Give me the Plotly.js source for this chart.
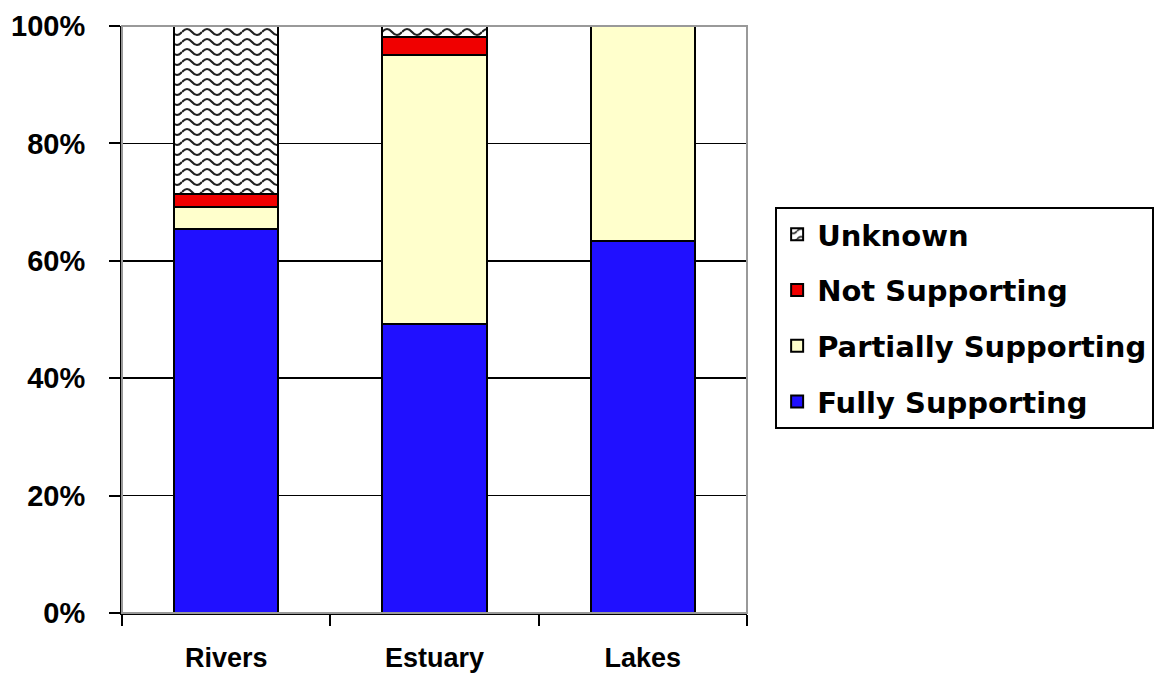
<!DOCTYPE html>
<html>
<head>
<meta charset="utf-8">
<script src="https://cdn.plot.ly/plotly-3.0.1.min.js"></script>
<style>html,body{margin:0;padding:0;background:#fff;}</style>
</head>
<body>
<div id="chart" style="width:1170px;height:688px;"></div>
<script>
const categories = ["Rivers", "Estuary", "Lakes"];
const fullySupporting = [65.4, 49.2, 63.4];
const partiallySupporting = [3.8, 45.9, 36.6];
const notSupporting = [2.2, 3.0, 0];
const unknown = [28.6, 1.9, 0];
const yTickVals = [0, 20, 40, 60, 80, 100];
const yTickText = ["0%", "20%", "40%", "60%", "80%", "100%"];

const edge = {color: "#000", width: 2};
function tr(name, vals, color, group, rank, pattern) {
  const m = {color: color, line: edge};
  if (pattern) m.pattern = pattern;
  return {type: "bar", name: name, x: categories, y: vals, marker: m,
          width: 0.5, legendgroup: group, legendrank: rank, hoverinfo: "skip"};
}
const traces = [
  tr("Fully Supporting", fullySupporting, "#2010FF", "a", 4),
  tr("Partially Supporting", partiallySupporting, "#FFFFCC", "b", 3),
  tr("Not Supporting", notSupporting, "#F00000", "c", 2),
  tr("Unknown", unknown, "#FFFFFF", "d", 1, {shape: "x", fgcolor: "#000", bgcolor: "#fff", size: 10, solidity: 0.2})
];

const layout = {
  width: 1170, height: 688,
  margin: {l: 122, r: 423, t: 26, b: 75},
  barmode: "stack",
  paper_bgcolor: "#fff", plot_bgcolor: "#fff",
  showlegend: true,
  legend: {
    x: 1.045, xanchor: "left", y: 0.6917, yanchor: "top",
    bordercolor: "#000", borderwidth: 2, bgcolor: "#fff",
    traceorder: "grouped", tracegroupgap: 15,
    font: {family: "DejaVu Sans", size: 29, color: "#000", weight: "bold"},
    itemclick: false
  },
  xaxis: {
    showline: true, linecolor: "#000", linewidth: 2,
    ticks: "outside", tickson: "boundaries", ticklen: 11, tickcolor: "#000", tickwidth: 2,
    tickfont: {family: "Liberation Sans", size: 27, color: "#000", weight: "bold"},
    ticklabelstandoff: 20, showgrid: false, zeroline: false, fixedrange: true
  },
  yaxis: {
    range: [0, 100], tickvals: yTickVals, ticktext: yTickText,
    showline: true, linecolor: "#000", linewidth: 2,
    ticks: "outside", ticklen: 11, tickcolor: "#000", tickwidth: 2,
    showgrid: true, gridcolor: "#000", gridwidth: 1.5, zeroline: false,
    tickfont: {family: "Liberation Sans", size: 29, color: "#000", weight: "bold"},
    ticklabelstandoff: 18, fixedrange: true
  },
  shapes: [{type: "rect", xref: "paper", yref: "paper", x0: 0, x1: 1, y0: 0, y1: 1,
            line: {color: "#999", width: 2}, layer: "above"}]
};

Plotly.newPlot("chart", traces, layout, {staticPlot: true}).then(function (gd) {
  // replace the hatch with a wavy fill like the original
  const pats = gd.querySelectorAll("pattern");
  pats.forEach(function (p) {
    const inLegend = !!p.closest(".legend") ;
    const w = inLegend ? 10 : 20, h = inLegend ? 6 : 10;
    p.setAttribute("width", String(w));
    p.setAttribute("height", String(h));
    p.setAttribute("patternUnits", "userSpaceOnUse");
    while (p.firstChild) p.removeChild(p.firstChild);
    const ns = "http://www.w3.org/2000/svg";
    const r = document.createElementNS(ns, "rect");
    r.setAttribute("width", String(w)); r.setAttribute("height", String(h)); r.setAttribute("fill", "#fff");
    p.appendChild(r);
    const path = document.createElementNS(ns, "path");
    path.setAttribute("d", "M0," + (h * 0.6) + " Q" + (w / 4) + ",0 " + (w / 2) + "," + (h * 0.6) + " Q" + (w * 3 / 4) + "," + (h * 1.2) + " " + w + "," + (h * 0.6));
    path.setAttribute("fill", "none"); path.setAttribute("stroke", "#222"); path.setAttribute("stroke-width", inLegend ? "1.2" : "2");
    p.appendChild(path);
  });
});
</script>
</body>
</html>
